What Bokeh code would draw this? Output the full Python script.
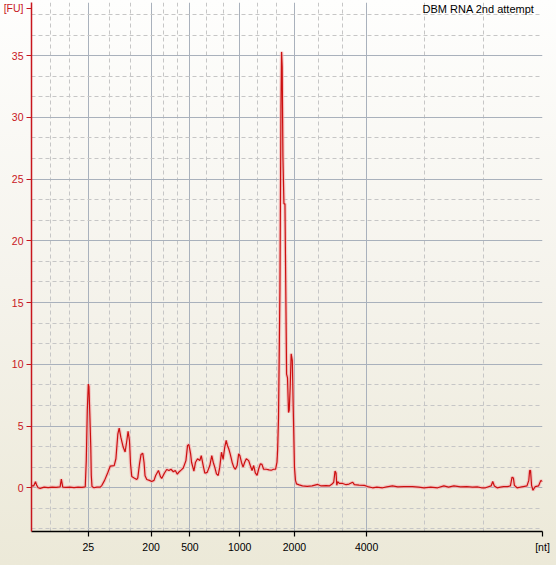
from bokeh.plotting import figure
from bokeh.models import FixedTicker, SingleIntervalTicker, Range1d, Label
from bokeh.embed import file_html
from bokeh.resources import INLINE

# Electropherogram trace: migration time [s] vs fluorescence [FU]
time_s = [19.00, 19.21, 19.39, 19.51, 19.65, 19.85, 20.24, 20.63, 21.02, 21.41,
          21.80, 21.92, 22.06, 22.38, 22.77, 23.16, 23.55, 23.94, 24.26, 24.36,
          24.46, 24.56, 24.62, 24.72, 24.80, 24.85, 24.92, 25.11, 25.40, 25.73,
          25.89, 26.15, 26.48, 26.70, 27.09, 27.26, 27.45, 27.58, 27.74, 27.97,
          28.16, 28.33, 28.45, 28.59, 28.69, 28.81, 29.04, 29.30, 29.40, 29.57,
          29.72, 29.89, 30.01, 30.11, 30.28, 30.54, 30.76, 30.99, 31.15, 31.42,
          31.61, 31.74, 32.00, 32.23, 32.45, 32.65, 32.88, 33.07, 33.27, 33.46,
          33.66, 33.85, 34.11, 34.27, 34.40, 34.57, 34.66, 34.89, 35.05, 35.25,
          35.47, 35.61, 35.80, 35.96, 36.19, 36.45, 36.64, 36.78, 36.93, 37.10,
          37.27, 37.42, 37.59, 37.75, 37.91, 38.05, 38.17, 38.30, 38.44, 38.63,
          38.79, 38.95, 39.12, 39.27, 39.39, 39.54, 39.70, 39.86, 40.02, 40.25,
          40.41, 40.58, 40.74, 40.90, 41.07, 41.22, 41.39, 41.55, 41.71, 41.97,
          42.24, 42.46, 42.69, 42.88, 43.02, 43.08, 43.17, 43.31, 43.41, 43.47,
          43.53, 43.56, 43.60, 43.70, 43.80, 43.86, 43.96, 44.05, 44.15, 44.22,
          44.31, 44.41, 44.52, 44.61, 44.73, 44.83, 44.93, 45.19, 45.51, 45.97,
          46.46, 47.01, 47.34, 47.82, 48.14, 48.41, 48.57, 48.70, 48.80, 48.87,
          48.96, 49.12, 49.45, 49.78, 50.07, 50.43, 50.59, 51.05, 51.56, 51.89,
          52.37, 52.79, 53.35, 53.77, 54.32, 54.84, 55.42, 56.27, 56.89, 57.40,
          58.06, 58.74, 59.35, 59.81, 60.33, 60.98, 61.57, 62.15, 62.61, 63.03,
          63.42, 63.97, 64.13, 64.29, 64.56, 64.88, 65.20, 65.56, 65.86, 66.02,
          66.15, 66.25, 66.51, 66.83, 67.12, 67.48, 67.66, 67.74, 67.83, 67.93,
          68.07, 68.29, 68.61, 68.84, 69.00]
fu = [0.15, 0.15, 0.50, 0.20, 0.00, -0.05, 0.05, 0.02, 0.06, 0.03,
      0.08, 0.70, 0.05, 0.03, 0.06, 0.02, 0.05, 0.03, 0.08, 2.20,
      6.30, 8.40, 8.20, 5.60, 3.30, 1.00, 0.10, 0.00, 0.05, 0.05,
      0.20, 0.60, 1.26, 1.75, 1.80, 2.35, 4.37, 4.83, 4.10, 3.30,
      2.90, 3.83, 4.58, 3.80, 1.94, 0.92, 0.80, 0.67, 0.80, 1.94,
      2.70, 2.80, 2.07, 0.98, 0.67, 0.60, 0.51, 0.60, 1.00, 1.40,
      0.92, 0.75, 1.18, 1.48, 1.40, 1.50, 1.30, 1.40, 1.10, 1.30,
      1.45, 1.60, 2.20, 3.43, 3.50, 2.75, 2.07, 1.35, 2.07, 2.35,
      2.20, 2.60, 1.80, 1.18, 1.25, 1.80, 2.60, 2.07, 1.67, 1.13,
      1.00, 1.67, 2.88, 2.30, 3.30, 3.83, 3.43, 3.16, 2.75, 2.07,
      1.67, 1.50, 1.80, 2.75, 2.60, 2.07, 1.67, 2.07, 2.35, 2.20,
      1.80, 1.40, 1.80, 1.20, 1.00, 1.50, 1.94, 1.90, 1.50, 1.50,
      1.45, 1.42, 1.50, 1.50, 2.07, 3.00, 5.70, 16.20, 30.80, 35.30,
      34.10, 30.80, 26.80, 23.00, 23.00, 17.90, 9.20, 8.90, 6.10, 6.30,
      8.10, 10.85, 10.30, 6.50, 1.67, 0.60, 0.32, 0.24, 0.15, 0.12,
      0.15, 0.27, 0.15, 0.18, 0.15, 0.30, 0.45, 1.35, 1.20, 0.20,
      0.50, 0.35, 0.35, 0.25, 0.30, 0.45, 0.25, 0.22, 0.19, 0.10,
      0.00, 0.05, 0.00, 0.08, 0.15, 0.08, 0.10, 0.10, 0.05, 0.00,
      0.05, 0.00, 0.15, 0.05, 0.15, 0.08, 0.10, 0.05, 0.08, 0.00,
      0.00, 0.15, 0.51, 0.15, 0.00, 0.05, 0.10, 0.10, 0.15, 0.86,
      0.80, 0.20, 0.00, 0.05, 0.10, 0.15, 0.60, 1.40, 1.40, 0.20,
      -0.20, 0.10, 0.15, 0.60, 0.50]

# Ladder: size labels [nt] at their migration times
ladder_nt = ["25", "200", "500", "1000", "2000", "4000"]
ladder_time = [24.56, 30.70, 34.50, 39.37, 44.73, 51.79]
minor_time = [20.85, 22.70, 26.60, 28.65, 31.96, 33.27, 36.12, 37.75,
              41.16, 42.95, 47.08, 49.43, 57.50, 63.25, 69.0]
fu_ticks = [0, 5, 10, 15, 20, 25, 30, 35]

title_text = "DBM  RNA 2nd attempt"
y_unit = "[FU]"
x_unit = "[nt]"
y_unit_pos = 38.85   # unit label sits at the top end of the y axis
x_unit_pos = 69.0    # unit label sits at the right end of the x axis

RED = "#c8161d"
FONT = "Liberation Sans"

p = figure(width=556, height=565, title=None,
           x_range=Range1d(19.0, 69.0), y_range=Range1d(-3.54, 39.30),
           output_backend="svg", toolbar_location=None,
           min_border_left=29, min_border_right=14,
           min_border_top=2, min_border_bottom=34)

p.background_fill_color = None
p.border_fill_color = None
p.outline_line_color = None
p.styles = {"background": "linear-gradient(180deg, #fefefd 0%, #f5f3ec 50%, #ece9d8 100%)"}

# axes (unit labels drawn as end-of-axis tick labels)
p.xaxis.ticker = FixedTicker(ticks=ladder_time + [x_unit_pos])
x_over = {t: s for t, s in zip(ladder_time, ladder_nt)}
x_over[x_unit_pos] = x_unit
p.xaxis.major_label_overrides = x_over

p.yaxis.ticker = FixedTicker(ticks=fu_ticks + [y_unit_pos])
y_over = {v: str(v) for v in fu_ticks}
y_over[y_unit_pos] = y_unit
p.yaxis.major_label_overrides = y_over

for ax in (p.xaxis, p.yaxis):
    ax.minor_tick_line_color = None
    ax.major_tick_in = 0
    ax.major_tick_out = 5
    ax.major_label_text_font = FONT
    ax.major_label_text_font_size = "10.5px"
    ax.axis_line_width = 1.5
    ax.major_tick_line_width = 1.2

p.xaxis.axis_line_color = "black"
p.xaxis.major_tick_line_color = "black"
p.xaxis.major_label_text_color = "black"
p.xaxis.major_label_standoff = 4

p.yaxis.axis_line_color = RED
p.yaxis.major_tick_line_color = RED
p.yaxis.major_label_text_color = RED
p.yaxis.major_label_standoff = 3

# grid (own tickers, so the unit-label positions get no grid lines)
p.xgrid.ticker = FixedTicker(ticks=ladder_time, minor_ticks=minor_time)
p.ygrid.ticker = SingleIntervalTicker(interval=5, num_minor_ticks=3)
p.grid.grid_line_color = "#a9b1bc"
p.grid.grid_line_width = 1
p.grid.minor_grid_line_color = "#c6c6c6"
p.grid.minor_grid_line_dash = "4 3"

# trace with soft halo
p.line(time_s, fu, color="#f2b3b3", line_width=3.5, alpha=0.7)
p.line(time_s, fu, color="#cc1010", line_width=1.2)

# run title, top right
p.add_layout(Label(x=69.0, y=39.30, x_offset=-5, text=title_text,
                   text_align="right", text_baseline="top",
                   text_color="black", text_font=FONT, text_font_size="11px"))

open("out.html", "w").write(file_html(p, INLINE))
